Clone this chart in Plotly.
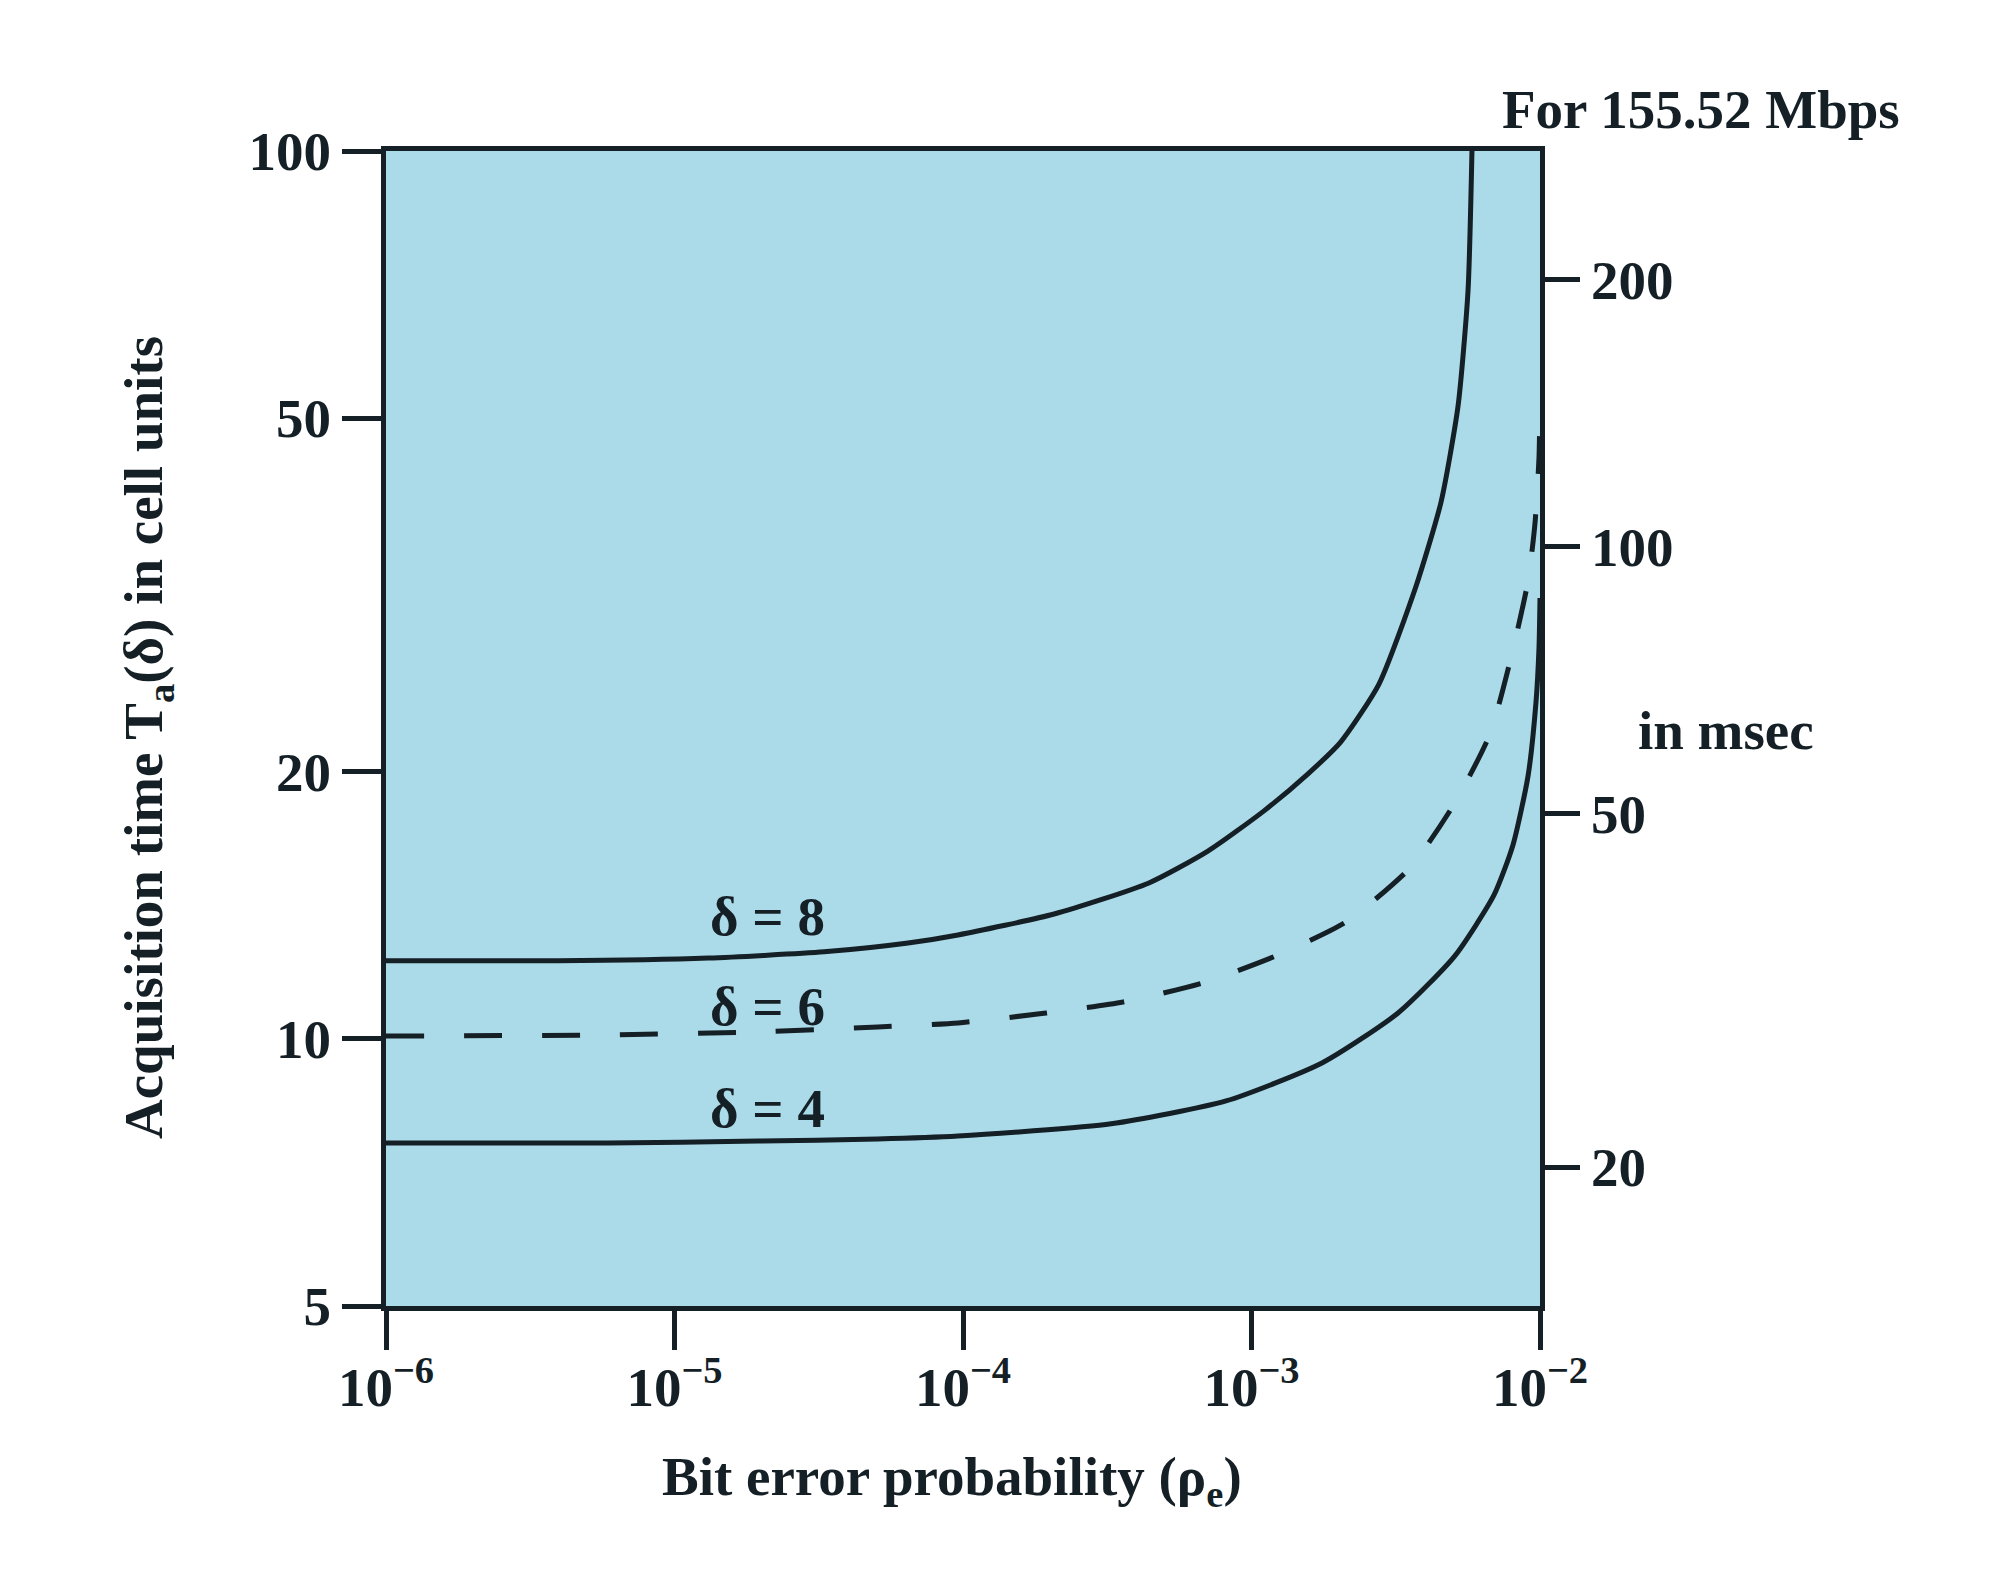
import plotly.graph_objects as go

# ---- data ----
x_tickvals = [1e-6, 1e-5, 1e-4, 1e-3, 1e-2]
x_ticktext = ["10<sup>−6</sup>", "10<sup>−5</sup>", "10<sup>−4</sup>", "10<sup>−3</sup>", "10<sup>−2</sup>"]
y_tickvals = [5, 10, 20, 50, 100]
y_ticktext = ["5", "10", "20", "50", "100"]
right_tickvals = [20, 50, 100, 200]
right_ticktext = ["20", "50", "100", "200"]

# delta = 8 (solid)
p8 = [1e-6, 3.95e-6, 1.31e-5, 3.30e-5, 6.45e-5, 9.61e-5, 2.07e-4, 4.41e-4, 7.06e-4,
      1.105e-3, 1.57e-3, 2.04e-3, 2.766e-3, 3.72e-3, 4.54e-3, 5.20e-3, 5.63e-3, 5.81e-3]
t8 = [12.24, 12.24, 12.33, 12.53, 12.82, 13.09, 13.82, 14.98, 16.27,
      18.06, 19.88, 21.60, 25.09, 32.36, 40.24, 51.62, 69.56, 100]

# delta = 6 (dashed)
p6 = [1e-6, 5.88e-6, 1.95e-5, 5.07e-5, 9.61e-5, 1.94e-4, 3.59e-4, 6.79e-4, 1.216e-3,
      2.126e-3, 3.54e-3, 5.07e-3, 6.71e-3, 7.93e-3, 9.09e-3, 9.61e-3, 9.92e-3, 1e-2]
t6 = [10.07, 10.10, 10.18, 10.31, 10.42, 10.69, 11.00, 11.56, 12.40,
      13.54, 15.57, 18.44, 22.05, 26.85, 32.79, 38.11, 45.11, 52.70]

# delta = 4 (solid)
p4 = [1e-6, 5.88e-6, 1.95e-5, 5.07e-5, 9.61e-5, 3.26e-4, 8.16e-4, 1.755e-3, 3.22e-3,
      5.07e-3, 6.93e-3, 8.06e-3, 9.09e-3, 9.68e-3, 9.92e-3, 1e-2]
t4 = [7.63, 7.63, 7.67, 7.71, 7.77, 8.02, 8.51, 9.39, 10.69,
      12.40, 14.52, 16.53, 19.77, 23.89, 27.55, 31.37]

curve_labels = ["δ = 8", "δ = 6", "δ = 4"]

# ---- style ----
INK = "#141f26"
BG = "#abdbe9"
FONT = "Liberation Serif"
FS = 55
LW = 5

fig = go.Figure()
fig.add_trace(go.Scatter(x=p8, y=t8, mode="lines", line=dict(color=INK, width=LW, shape="spline", smoothing=0.6),
                         showlegend=False, hoverinfo="skip"))
fig.add_trace(go.Scatter(x=p6, y=t6, mode="lines",
                         line=dict(color=INK, width=LW, dash="38px,40px", shape="spline", smoothing=0.6),
                         showlegend=False, hoverinfo="skip"))
fig.add_trace(go.Scatter(x=p4, y=t4, mode="lines", line=dict(color=INK, width=LW, shape="spline", smoothing=0.6),
                         showlegend=False, hoverinfo="skip"))
# invisible trace carrying the right-hand (msec) axis
fig.add_trace(go.Scatter(x=[x_tickvals[0]] * len(right_tickvals), y=right_tickvals, yaxis="y2",
                         mode="markers", marker=dict(opacity=0), showlegend=False, hoverinfo="skip"))

tickfont = dict(family=FONT, size=FS, color=INK, weight="bold")

fig.update_layout(
    width=2000, height=1574,
    margin=dict(l=378, r=468, t=143, b=276),
    paper_bgcolor="white", plot_bgcolor=BG,
    xaxis=dict(type="log", range=[-6, -2], tickvals=x_tickvals, ticktext=x_ticktext,
               ticks="outside", ticklen=39, tickwidth=5, tickcolor=INK, ticklabelstandoff=-10,
               showline=True, linewidth=5, linecolor=INK, mirror=True,
               showgrid=False, zeroline=False, tickfont=tickfont),
    yaxis=dict(type="log", range=[0.69897, 2], tickvals=y_tickvals, ticktext=y_ticktext,
               ticks="outside", ticklen=39, tickwidth=5, tickcolor=INK,
               showline=True, linewidth=5, linecolor=INK, mirror=True,
               showgrid=False, zeroline=False, tickfont=tickfont),
    yaxis2=dict(type="log", range=[1.1446, 2.4457], overlaying="y", side="right", anchor="x",
                tickvals=right_tickvals, ticktext=right_ticktext,
                ticks="outside", ticklen=39, tickwidth=5, tickcolor=INK,
                showline=False, showgrid=False, zeroline=False, tickfont=tickfont),
)

ann_font = dict(family=FONT, size=FS, color=INK, weight="bold")
annotations = [
    dict(text="Bit error probability (ρ<sub>e</sub>)", x=0.4905, y=-0.1515),
    dict(text="Acquisition time T<sub>a</sub>(δ) in cell units", x=-0.2062, y=0.4918, textangle=-90),
    dict(text="For 155.52 Mbps", x=1.1395, y=1.0355),
    dict(text="in msec", x=1.1612, y=0.4987),
    dict(text=curve_labels[0], x=0.331, y=0.3368),
    dict(text=curve_labels[1], x=0.331, y=0.2589),
    dict(text=curve_labels[2], x=0.331, y=0.1714),
]
for a in annotations:
    fig.add_annotation(xref="paper", yref="paper", showarrow=False, xanchor="center", yanchor="middle",
                       font=ann_font, **a)

fig.write_html("out.html")
